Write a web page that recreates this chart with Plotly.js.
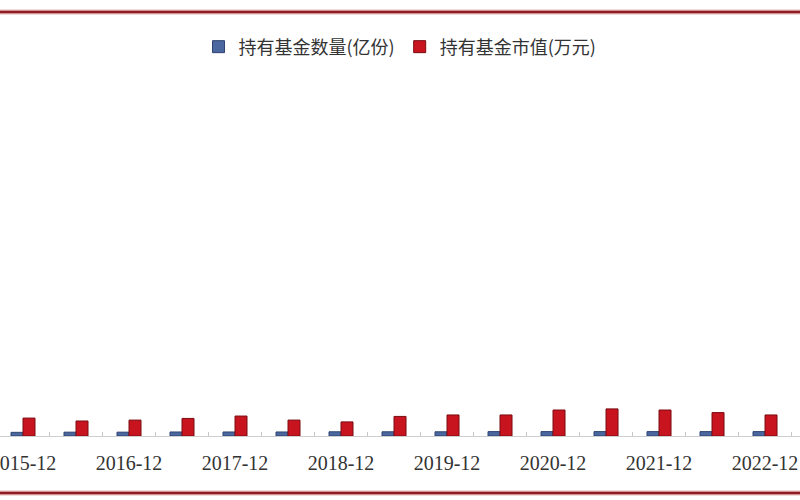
<!DOCTYPE html>
<html>
<head>
<meta charset="utf-8">
<script src="https://cdn.plot.ly/plotly-3.0.1.min.js"></script>
<style>html,body{margin:0;padding:0;background:#fff;}#chart{width:800px;height:500px;}</style>
</head>
<body>
<div id="chart"></div>
<script>
var categories = ['2015-12','2016-06','2016-12','2017-06','2017-12','2018-06','2018-12','2019-06','2019-12','2020-06','2020-12','2021-06','2021-12','2022-06','2022-12'];
var tickLabels = ['2015-12','','2016-12','','2017-12','','2018-12','','2019-12','','2020-12','','2021-12','','2022-12'];
var fundShares = [2.0, 2.1, 2.1, 2.2, 2.2, 2.2, 2.3, 2.3, 2.3, 2.4, 2.4, 2.4, 2.4, 2.4, 2.4];
var fundValue = [9.8, 8.2, 8.7, 9.6, 10.9, 8.7, 7.7, 10.7, 11.5, 11.5, 14.2, 14.8, 14.2, 12.8, 11.5];
var seriesNames = ['持有基金数量(亿份)', '持有基金市值(万元)'];

var traces = [
  {type:'bar', name: seriesNames[0], x: categories, y: fundShares,
   marker:{color:'#4a67a0', line:{color:'#2f4470', width:1}}},
  {type:'bar', name: seriesNames[1], x: categories, y: fundValue,
   marker:{color:'#c8141e', line:{color:'#7a0c12', width:1}}}
];

var layout = {
  width:800, height:500,
  margin:{l:0, r:0, t:70, b:64},
  paper_bgcolor:'#ffffff', plot_bgcolor:'#ffffff',
  barmode:'group', bargap:0.547, bargroupgap:0,
  showlegend:true,
  legend:{orientation:'h', x:0.5, xanchor:'center', y:1.063, yanchor:'middle',
          font:{family:'Noto Sans CJK SC', size:18, color:'#333'}, traceorder:'normal',
          itemwidth:30, bgcolor:'rgba(0,0,0,0)'},
  xaxis:{type:'category', range:[-0.434, 14.66], tickmode:'array',
         tickvals: categories, ticktext: tickLabels, tickson:'boundaries', tickangle:0,
         ticks:'inside', ticklen:4, tickcolor:'#c8c8c8', tickwidth:1, ticklabelstandoff:9,
         showline:true, linecolor:'#cfcfcf', linewidth:1, showgrid:false, zeroline:false,
         tickfont:{family:'Liberation Serif', size:20, color:'#333'}, fixedrange:true},
  yaxis:{range:[0,200], visible:false, showgrid:false, zeroline:false, fixedrange:true},
  shapes:[
    {type:'line', xref:'paper', yref:'paper', x0:0, x1:1, y0:1.1585, y1:1.1585,
     line:{color:'#e8b8b8', width:5}},
    {type:'line', xref:'paper', yref:'paper', x0:0, x1:1, y0:1.1585, y1:1.1585,
     line:{color:'#8e1d25', width:2.5}},
    {type:'line', xref:'paper', yref:'paper', x0:0, x1:1, y0:-0.1557, y1:-0.1557,
     line:{color:'#e8b8b8', width:5}},
    {type:'line', xref:'paper', yref:'paper', x0:0, x1:1, y0:-0.1557, y1:-0.1557,
     line:{color:'#8e1d25', width:2.5}}
  ]
};

Plotly.newPlot('chart', traces, layout, {displayModeBar:false, staticPlot:true});
</script>
</body>
</html>
